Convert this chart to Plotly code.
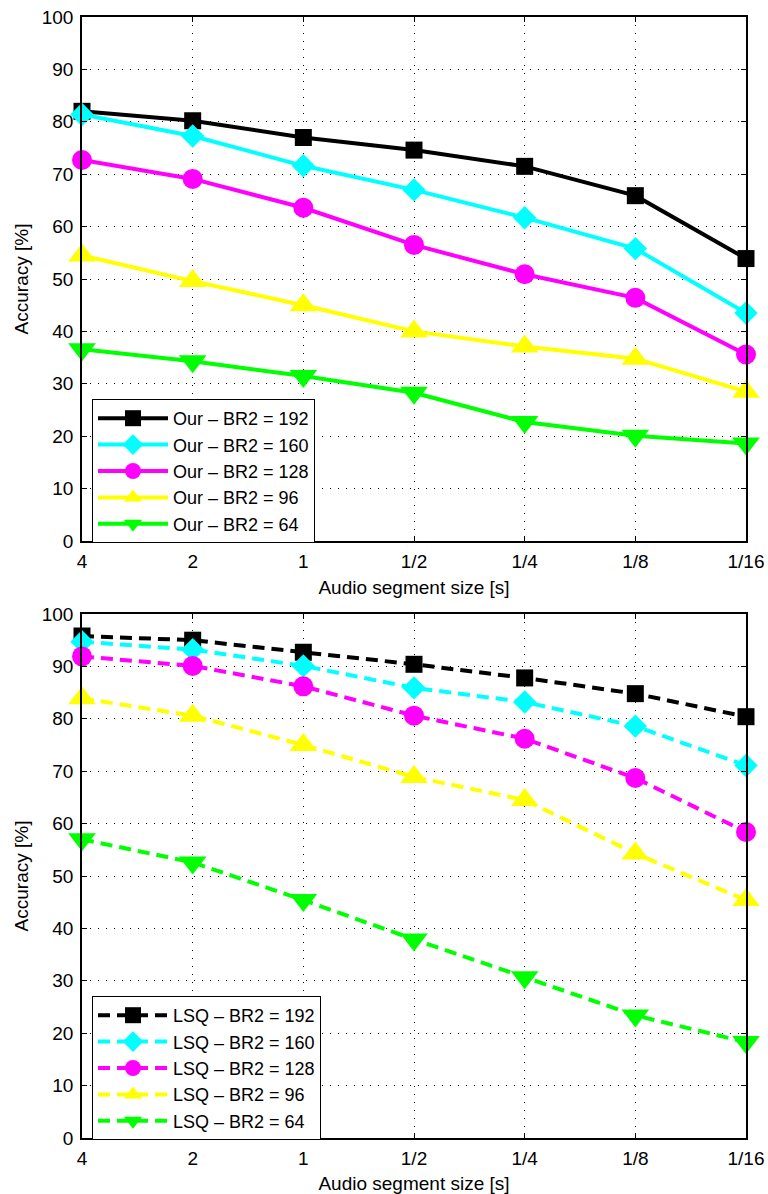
import plotly.graph_objects as go

categories = ["4", "2", "1", "1/2", "1/4", "1/8", "1/16"]

our_192 = [82.0, 80.2, 77.0, 74.6, 71.5, 65.9, 53.9]
our_160 = [81.4, 77.3, 71.6, 67.0, 61.7, 55.8, 43.5]
our_128 = [72.7, 69.1, 63.6, 56.5, 50.9, 46.4, 35.6]
our_96 = [54.5, 49.6, 45.0, 40.0, 37.1, 34.8, 28.5]
our_64 = [36.6, 34.3, 31.5, 28.3, 22.7, 20.1, 18.6]

lsq_192 = [95.8, 95.0, 92.7, 90.4, 87.8, 84.8, 80.4]
lsq_160 = [94.7, 93.2, 90.1, 85.9, 83.2, 78.6, 71.1]
lsq_128 = [91.9, 90.1, 86.2, 80.6, 76.2, 68.7, 58.4]
lsq_96 = [83.9, 80.6, 75.0, 68.9, 64.5, 54.3, 45.4]
lsq_64 = [57.0, 52.6, 45.4, 37.9, 30.7, 23.4, 18.3]

labels_br = ["192", "160", "128", "96", "64"]
colors = ["#000000", "#00FFFF", "#FF00FF", "#FFFF00", "#00FF00"]
symbols = ["square", "diamond", "circle", "triangle-up", "triangle-down"]
msizes = [17, 18, 20, 24, 24]

xs = list(range(len(categories)))
FONT = "Liberation Sans, Arial, Helvetica, sans-serif"

W, H = 768, 1194
L, R, T, B = 82, 22, 17, 56

fig = go.Figure()

our = [our_192, our_160, our_128, our_96, our_64]
lsq = [lsq_192, lsq_160, lsq_128, lsq_96, lsq_64]

for i in range(5):
    fig.add_trace(go.Scatter(
        x=xs, y=our[i], mode="lines+markers",
        name=f"Our – BR2 = {labels_br[i]}",
        line=dict(color=colors[i], width=4),
        marker=dict(symbol=symbols[i], size=msizes[i], color=colors[i], line=dict(width=0)),
        cliponaxis=False, xaxis="x", yaxis="y", legend="legend",
    ))
for i in range(5):
    fig.add_trace(go.Scatter(
        x=xs, y=lsq[i], mode="lines+markers",
        name=f"LSQ – BR2 = {labels_br[i]}",
        line=dict(color=colors[i], width=4, dash="12px,7px"),
        marker=dict(symbol=symbols[i], size=msizes[i], color=colors[i], line=dict(width=0)),
        cliponaxis=False, xaxis="x2", yaxis="y2", legend="legend2",
    ))

axis_common = dict(
    showline=True, linecolor="black", linewidth=1.5, mirror="ticks",
    ticks="inside", ticklen=5, tickcolor="black", tickwidth=1,
    showgrid=True, gridcolor="black", gridwidth=1, griddash="1px,7px",
    zeroline=False, automargin=False,
    tickfont=dict(family=FONT, size=19, color="black"),
)

plot_h = H - T - B
def py(page_y):
    return (H - B - page_y) / plot_h

top_dom = [py(541), 1.0]
bot_dom = [0.0, py(614)]

xtitle = dict(text="Audio segment size [s]", font=dict(family=FONT, size=19), standoff=10)
ytitle = dict(text="Accuracy [%]", font=dict(family=FONT, size=19), standoff=8)

legend_common = dict(
    xanchor="left", yanchor="top",
    bgcolor="white", bordercolor="black", borderwidth=1,
    font=dict(family=FONT, size=18, color="black"),
    itemwidth=70, tracegroupgap=0,
)
lx = (92 - L) / (W - L - R)

fig.update_layout(
    width=W, height=H,
    margin=dict(l=L, r=R, t=T, b=B),
    paper_bgcolor="white", plot_bgcolor="white",
    font=dict(family=FONT, color="black"),
    showlegend=True,
    xaxis=dict(axis_common, domain=[0, 1], anchor="y", range=[0, 6], ticklabelstandoff=2,
               tickmode="array", tickvals=xs, ticktext=categories, title=xtitle),
    yaxis=dict(axis_common, domain=top_dom, anchor="x", range=[0, 100], dtick=10,
               ticklabelstandoff=3, title=ytitle),
    xaxis2=dict(axis_common, domain=[0, 1], anchor="y2", range=[0, 6], ticklabelstandoff=2,
                tickmode="array", tickvals=xs, ticktext=categories, title=xtitle),
    yaxis2=dict(axis_common, domain=bot_dom, anchor="x2", range=[0, 100], dtick=10,
                ticklabelstandoff=3, title=ytitle),
    legend=dict(legend_common, x=lx, y=py(399)),
    legend2=dict(legend_common, x=lx, y=py(996)),
)

fig.write_html(
    "out.html",
    config={"displayModeBar": False},
    post_script="document.body.style.margin='0';document.body.style.overflow='hidden';",
)
